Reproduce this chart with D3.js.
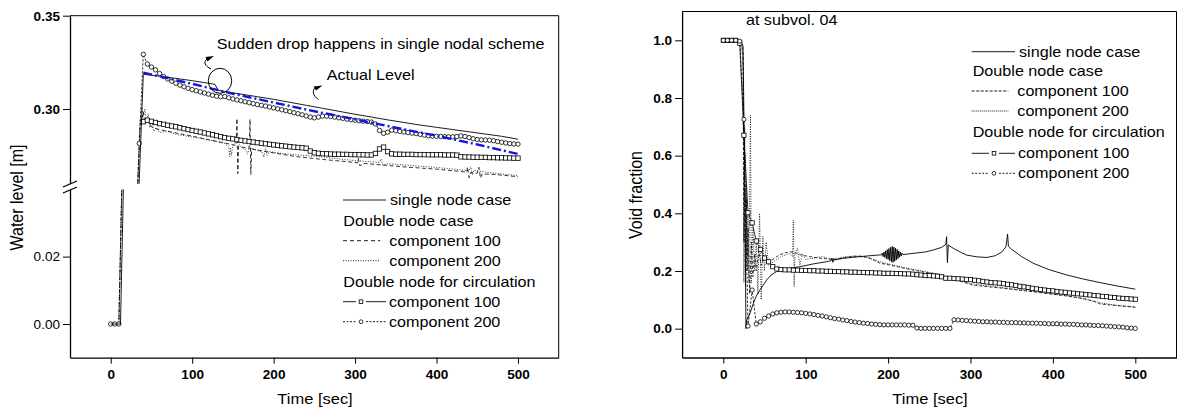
<!DOCTYPE html>
<html>
<head>
<meta charset="utf-8">
<script src="https://cdn.jsdelivr.net/npm/d3@7"></script>
<style>
  body { margin: 0; background: #fff; }
  svg { display: block; font-family: "Liberation Sans", Arial, Helvetica, sans-serif; }
</style>
</head>
<body>
<script>
// sample times of the marker series (one point every 5 s)
var secs = d3.range(0, 505, 5);

// ---------- left panel : water level [m] ----------
var lvlCirc200 = [
  0, 0, 0, null, null, null, null, .2816, .3293, .3241,
  .3225, .3210, .3190, .3174, .3161, .3149, .3138, .3128, .3119, .3111,
  .3104, .3098, .3092, .3086, .3080, .3074, .3069, .3066, .3067, .3060,
  .3054, .3049, .3044, .3039, .3034, .3029, .3024, .3020, .3016, .3011,
  .3006, .3001, .2996, .2991, .2986, .2980, .2975, .2969, .2963, .2957,
  .2953, .2957, .2962, .2962, .2960, .2957, .2953, .2950, .2946, .2943,
  .2940, .2937, .2935, .2933, .2930, .2920, .2885, .2870, .2876, .2887,
  .2884, .2880, .2877, .2874, .2871, .2868, .2864, .2860, .2857, .2855,
  .2854, .2853, .2852, .2851, .2851, .2853, .2856, .2853, .2847, .2841,
  .2837, .2835, .2834, .2833, .2830, .2826, .2822, .2818, .2815, .2813, .2812
];
var lvlSq100 = [
  null, null, null, null, null, null, null, null, .2932, .2940,
  .2934, .2928, .2922, .2918, .2913, .2909, .2905, .2900, .2895, .2890,
  .2885, .2881, .2877, .2872, .2867, .2862, .2857, .2852, .2847, .2843,
  .2840, .2836, .2832, .2829, .2826, .2823, .2820, .2817, .2814, .2811,
  .2808, .2806, .2803, .2801, .2798, .2796, .2794, .2792, .2790, .2775,
  .2766, .2763, .2761, .2760, .2759, .2758, .2758, .2757, .2757, .2756,
  .2756, .2755, .2755, .2754, .2754, .2762, .2786, .2796, .2772, .2760,
  .2758, .2758, .2757, .2757, .2757, .2756, .2756, .2756, .2755, .2755,
  .2755, .2755, .2754, .2754, .2754, .2753, .2744, .2743, .2743, .2742,
  .2742, .2741, .2741, .2740, .2740, .2739, .2739, .2738, .2738, .2737, .2737
];
var lvlSingle = [[0,0],[5,0],[10,0],[12,0],[40,.3186],[60,.3176],[80,.3164],[100,.3152],
  [120,.3138],[128,.3132],[132,.3100],[140,.3094],[160,.3080],[180,.3066],[200,.3052],
  [220,.3036],[240,.3020],[260,.3004],[280,.2988],[300,.2972],[320,.2957],[340,.2942],
  [360,.2928],[380,.2914],[400,.2902],[420,.2890],[440,.2878],[460,.2866],[480,.2854],[500,.2838]];
var lvlActual = [[40,.3195],[100,.3135],[150,.3082],[200,.3035],[250,.2988],[300,.2945],
  [350,.2900],[400,.2857],[450,.2810],[500,.2759]];
var lvlDbl100 = [[0,0],[10,0],[36,.2900],[40,.2985],[42,.2920],[45,.2950],[50,.2905],[55,.2895],
  [60,.2890],[80,.2872],[100,.2855],[120,.2836],[140,.2818],[150,.2808],[154,.2805],[155,.2949],
  [156,.2654],[157,.2800],[165,.2793],[170,.2790],[171,.2945],[172,.2650],[173,.2786],[200,.2765],
  [228,.2745],[260,.2730],[285,.2720],[303,.2712],[304,.2735],[306,.2695],[310,.2709],[360,.2690],
  [400,.2678],[433,.2664],[437,.2662],[438,.2690],[440,.2632],[442,.2660],[450,.2656],[452,.2688],
  [454,.2630],[456,.2652],[470,.2650],[485,.2644],[500,.2637]];
var lvlDbl200 = [[0,0],[10,0],[36,.2930],[38,.3010],[40,.2960],[42,.3000],[44,.2930],[46,.2975],
  [48,.2900],[50,.2945],[53,.2880],[56,.2900],[60,.2875],[70,.2880],[80,.2865],[90,.2857],
  [100,.2850],[110,.2843],[120,.2834],[130,.2826],[140,.2816],[145,.2795],[146,.2745],[147,.2795],
  [148,.2750],[150,.2805],[155,.2830],[160,.2795],[165,.2785],[168,.2758],[170,.2792],[180,.2778],
  [186,.2768],[188,.2742],[190,.2790],[192,.2752],[195,.2772],[210,.2762],[230,.2754],[250,.2747],
  [270,.2738],[290,.2728],[310,.2720],[330,.2714],[332,.2732],[334,.2700],[340,.2707],[370,.2697],
  [400,.2687],[430,.2674],[440,.2670],[442,.2692],[444,.2646],[446,.2672],[460,.2662],[480,.2652],[500,.2644]];

// ---------- right panel : void fraction ----------
var vfSq100 = [
  1, 1, 1, 1, .99, .671, .402, .367, .304, .275,
  .245, .232, .215, .207, .205, .204, .204, .203, .203, .202,
  .202, .201, .201, .200, .200, .199, .199, .198, .198, .197,
  .197, .196, .196, .195, .195, .194, .194, .193, .193, .192,
  .192, .192, .191, .191, .190, .190, .189, .187, .186, .184,
  .184, .183, .182, .180, .175, .175, .174, .173, .172, .171,
  .170, .168, .166, .164, .162, .160, .159, .158, .156, .154,
  .152, .150, .147, .145, .143, .140, .138, .136, .134, .132,
  .131, .129, .127, .126, .124, .123, .121, .120, .118, .117,
  .115, .114, .112, .111, .109, .108, .106, .105, .104, .103, .102
];
var vfCirc200 = [
  1, 1, 1, 1, .997, .726, .009, .134, .016, .024,
  .036, .044, .051, .055, .057, .058, .058, .057, .056, .055,
  .053, .051, .049, .046, .044, .041, .038, .035, .033, .030,
  .028, .025, .023, .021, .019, .018, .016, .015, .014, .013,
  .013, .013, .013, .013, .013, .012, .012, .002, .001, .001,
  .001, .001, .001, .001, .001, .001, .031, .030, .029, .028,
  .027, .026, .025, .024, .024, .023, .023, .022, .022, .021,
  .021, .021, .020, .020, .019, .019, .019, .018, .018, .017,
  .017, .017, .016, .016, .015, .015, .014, .013, .013, .012,
  .011, .011, .010, .009, .008, .007, .006, .005, .003, .002, .001
];
var vfSingle = [[0,1],[20,1],[24,.98],[26,.5],[27.5,0],[28.4,.03],[32.4,.053],[36.5,.088],[40,.113],
  [44.5,.134],[52.6,.169],[58,.186],[64.7,.198],[75,.207],[93,.215],[110,.225],[125,.232],
  [131,.236],[132,.244],[133,.230],[134,.242],[135,.238],[145,.244],[166,.250],[186,.255],
  [192,.256],[193,.262],[194,.250],[195,.266],[196,.247],[197,.270],[198,.243],[199,.274],
  [200,.240],[201,.278],[202,.236],[203,.282],[204,.232],[205,.285],[206,.230],[207,.283],
  [208,.234],[209,.279],[210,.238],[211,.275],[212,.243],[213,.270],[214,.248],[215,.266],
  [216,.252],[217,.262],[218,.257],[230,.261],[245,.266],[255,.273],[265,.282],[270,.292],
  [271,.319],[272,.229],[273,.290],[279,.279],[288,.265],[295.5,.255],[308,.249],[320,.247],
  [330,.253],[338,.266],[343,.284],[345,.328],[346,.286],[350,.275],[362,.250],[376,.227],
  [395,.205],[417,.186],[437,.172],[457,.160],[478,.148],[500,.137]];
var vfDbl100 = [[0,1],[22,1],[24,.95],[25,.30],[26,.60],[27,.15],[28,.45],[29,.20],[30,.35],
  [32,.12],[34,.30],[36,.18],[38,.26],[40,.20],[43,.27],[46,.22],[50,.25],[55,.235],[60,.24],
  [65,.25],[70,.258],[75,.263],[81,.267],[88,.262],[95,.255],[105,.25],[115,.245],[125,.242],
  [135,.24],[145,.245],[155,.25],[165,.252],[175,.248],[185,.235],[190,.227],[200,.222],
  [214,.213],[230.6,.203],[240,.198],[260,.188],[280,.172],[303,.151],[340,.14],[376,.128],
  [410,.116],[437,.105],[450,.095],[457,.086],[470,.082],[485,.078],[500,.074]];
var vfDbl200 = [[0,1],[22,1],[24,.9],[25,.16],[26,.7],[27,.2],[28,.5],[29,.25],[30,.4],[31,.16],
  [33,.741],[34,.158],[36,.35],[38,.2],[40,.3],[42,.12],[44,.4],[46,.1],[48,.32],[50,.2],[52,.3],
  [55,.22],[60,.23],[65,.24],[70,.25],[75,.255],[80,.26],[84,.25],[85,.377],[86,.146],[87,.26],
  [90,.28],[93,.22],[96,.26],[100,.24],[110,.245],[120,.25],[130,.242],[140,.245],[150,.25],
  [160,.252],[175,.246],[190,.232],[210,.218],[230,.206],[260,.19],[300,.156],[340,.142],
  [380,.128],[420,.113],[457,.09],[480,.08],[500,.076]];

// ---------- ticks and labels ----------
var xMajor = [0, 100, 200, 300, 400, 500];
var xMinor = [-50, 50, 150, 250, 350, 450, 550];
var lvlTopMajor = [0.30, 0.35];
var lvlTopMinor = [0.275, 0.325];
var lvlBotMajor = [0.00, 0.02];
var lvlBotMinor = [-0.01, 0.01, 0.03];
var vfMajor = [0, 0.2, 0.4, 0.6, 0.8, 1.0];
var vfMinor = [-0.1, 0.1, 0.3, 0.5, 0.7, 0.9];
var legendLabels = ['single node case', 'Double node case', 'component 100', 'component 200',
  'Double node for circulation', 'component 100', 'component 200'];
var noteDrop = 'Sudden drop happens in single nodal scheme';
var noteActual = 'Actual Level';
var noteSubvol = 'at subvol. 04';

var SX = 1.13; // the figure's lettering is a little wider than plain Arial
var TXT = 14.3;

var svg = d3.select('body').append('svg')
  .attr('width', 1178).attr('height', 414);
var defs = svg.append('defs');

function clipRect(id, x0, y0, x1, y1) {
  defs.append('clipPath').attr('id', id).append('rect')
    .attr('x', x0).attr('y', y0).attr('width', x1 - x0).attr('height', y1 - y0);
}

function gridSeries(vals) {
  return secs.map(function(t, i) { return [t, vals[i]]; })
             .filter(function(d) { return d[1] != null; });
}

// little painter bound to one pair of scales
function painter(g, x, y) {
  var line = d3.line().x(function(d) { return x(d[0]); }).y(function(d) { return y(d[1]); });
  return {
    line: function(data, o) {
      g.append('path').datum(data).attr('d', line)
        .attr('fill', 'none')
        .attr('stroke', o.color || '#000')
        .attr('stroke-width', o.w || 0.8)
        .attr('stroke-dasharray', o.dash || null)
        .attr('stroke-linejoin', 'round');
    },
    squares: function(data, s) {
      g.selectAll(null).data(data).enter().append('rect')
        .attr('x', function(d) { return x(d[0]) - s / 2; })
        .attr('y', function(d) { return y(d[1]) - s / 2; })
        .attr('width', s).attr('height', s)
        .attr('fill', '#fff').attr('stroke', '#000').attr('stroke-width', 0.8);
    },
    circles: function(data, r) {
      g.selectAll(null).data(data).enter().append('circle')
        .attr('cx', function(d) { return x(d[0]); })
        .attr('cy', function(d) { return y(d[1]); })
        .attr('r', r)
        .attr('fill', '#fff').attr('stroke', '#000').attr('stroke-width', 0.8);
    }
  };
}

function label(x, y, str, size, anchor, weight) {
  return svg.append('text')
    .attr('transform', 'translate(' + x + ',' + y + ') scale(' + SX + ',1)')
    .attr('text-anchor', anchor || 'start')
    .attr('font-size', size)
    .attr('font-weight', weight || 'normal')
    .attr('fill', '#000')
    .text(str);
}

function styleAxis(g, bold) {
  g.selectAll('.domain').attr('stroke-width', 1.3);
  g.selectAll('.tick line').attr('stroke-width', 1);
  g.selectAll('text').attr('font-size', 12).attr('fill', '#000')
    .attr('font-family', '"Liberation Sans", Arial, sans-serif')
    .attr('font-weight', bold ? 'bold' : 'normal');
}

function bottomAxis(x, y0) {
  var g = svg.append('g').attr('transform', 'translate(0,' + y0 + ')');
  g.call(d3.axisBottom(x).tickValues(xMinor).tickSize(4).tickSizeOuter(0).tickFormat(''));
  g.call(d3.axisBottom(x).tickValues(xMajor).tickSize(6).tickSizeOuter(0).tickFormat(d3.format('d')));
  styleAxis(g, true);
  g.selectAll('text').attr('y', 21.6).attr('dy', null)
    .attr('transform', 'scale(' + SX + ',1)');
}

function leftAxis(y, x0, major, minor, fmt, bold) {
  var g = svg.append('g').attr('transform', 'translate(' + x0 + ',0)');
  g.call(d3.axisLeft(y).tickValues(minor).tickSize(4).tickSizeOuter(0).tickFormat(''));
  g.call(d3.axisLeft(y).tickValues(major).tickSize(7).tickSizeOuter(0).tickFormat(d3.format(fmt)));
  styleAxis(g, bold);
  g.selectAll('text').attr('x', -10 / SX).attr('dy', '0.36em')
    .attr('transform', 'scale(' + SX + ',1)');
}

// ================= LEFT PANEL =================
var xL = d3.scaleLinear().domain([-50, 550]).range([70, 558.7]);
var yTop = d3.scaleLinear().domain([0.26, 0.35]).range([183.7, 15.7]);
var yBot = d3.scaleLinear().domain([-0.01, 0.04]).range([357.7, 189.2]);

clipRect('clipTop', 70, 15.7, 558.7, 183.7);
clipRect('clipBot', 70, 189.2, 558.7, 357.7);

function drawLevel(g, y) {
  var p = painter(g, xL, y);
  p.line(lvlDbl200, { dash: '1,1.6', w: 0.8 });
  p.line(lvlDbl100, { dash: '4,2.5', w: 0.8 });
  p.line(gridSeries(lvlSq100), { w: 0.8 });
  p.line(gridSeries(lvlCirc200), { dash: '2.5,1.5', w: 0.8 });
  p.squares(gridSeries(lvlSq100), 4.4);
  p.circles(gridSeries(lvlCirc200), 2.2);
  p.line(lvlSingle, { w: 0.9 });
  p.line(lvlActual, { color: '#1414e6', w: 2.4, dash: '9,3,2,3' });
}
drawLevel(svg.append('g').attr('clip-path', 'url(#clipTop)'), yTop);
drawLevel(svg.append('g').attr('clip-path', 'url(#clipBot)'), yBot);

// frame
svg.append('path').attr('d', 'M70,15.7H558.7V357.7')
  .attr('fill', 'none').attr('stroke', '#000').attr('stroke-width', 1);
bottomAxis(xL, 357.7);
leftAxis(yTop, 70, lvlTopMajor, lvlTopMinor, '.2f', true);
leftAxis(yBot, 70, lvlBotMajor, lvlBotMinor, '.2f', false);
// axis break marks
svg.append('path').attr('d', 'M63,187L77,181M63,193L77,187')
  .attr('stroke', '#000').attr('stroke-width', 1.3);

// annotations
label(216.7, 49.3, noteDrop, TXT);
label(326.7, 80, noteActual, TXT);
svg.append('ellipse').attr('cx', 220).attr('cy', 80.8).attr('rx', 11.7).attr('ry', 12.5)
  .attr('fill', 'none').attr('stroke', '#000').attr('stroke-width', 1);
svg.append('path').attr('d', 'M207,59 C203,62 205,66 211,69')
  .attr('fill', 'none').attr('stroke', '#000').attr('stroke-width', 1);
svg.append('path').attr('d', 'M205.5,57 L214,56 L207.5,61.5 Z').attr('fill', '#000');
svg.append('path').attr('d', 'M315,87.5 C312,91 313,96 318.5,99.5')
  .attr('fill', 'none').attr('stroke', '#000').attr('stroke-width', 1);
svg.append('path').attr('d', 'M313.5,86.5 L322.5,85.5 L316,90.5 Z').attr('fill', '#000');

// axis titles
label(315, 404, 'Time [sec]', 14.6, 'middle');
svg.append('text')
  .attr('transform', 'translate(23,197.5) rotate(-90) scale(1,' + SX + ')')
  .attr('text-anchor', 'middle').attr('font-size', 16).text('Water level [m]');

// legend
function legend(x0, x1, xt, xh, xm, base, dashA, dotA) {
  var kinds = ['solid', 'head', 'dash', 'dot', 'head', 'sq', 'circ'];
  kinds.forEach(function(k, i) {
    var yb = base[i], yc = yb - 5;
    if (k === 'head') { label(xh, yb, legendLabels[i], TXT); return; }
    var xs = (k === 'dash' || k === 'dot') ? xt - 9 : x1;
    if (k === 'sq' || k === 'circ') {
      svg.append('line').attr('x1', x0).attr('x2', xm - 5).attr('y1', yc).attr('y2', yc)
        .attr('stroke', '#000').attr('stroke-width', 0.9).attr('stroke-dasharray', k === 'circ' ? '2,1.5' : null);
      svg.append('line').attr('x1', xm + 5).attr('x2', x1).attr('y1', yc).attr('y2', yc)
        .attr('stroke', '#000').attr('stroke-width', 0.9).attr('stroke-dasharray', k === 'circ' ? '2,1.5' : null);
      if (k === 'sq') svg.append('rect').attr('x', xm - 1.8).attr('y', yc - 1.8).attr('width', 3.6).attr('height', 3.6)
        .attr('fill', '#fff').attr('stroke', '#000').attr('stroke-width', 0.8);
      else svg.append('circle').attr('cx', xm).attr('cy', yc).attr('r', 1.9)
        .attr('fill', '#fff').attr('stroke', '#000').attr('stroke-width', 0.8);
      label(x1 + 3, yb, legendLabels[i], TXT);
      return;
    }
    svg.append('line').attr('x1', x0).attr('x2', xs).attr('y1', yc).attr('y2', yc)
      .attr('stroke', '#000').attr('stroke-width', 0.9)
      .attr('stroke-dasharray', k === 'dash' ? dashA : (k === 'dot' ? dotA : null));
    label(k === 'solid' ? x1 + 4 : xt, yb, legendLabels[i], TXT);
  });
}
legend(343, 386, 389.3, 343.3, 361, [205, 225.7, 245.7, 265.7, 287.3, 306.7, 326.7], '4,3', '1,1.5');

// ================= RIGHT PANEL =================
var xR = d3.scaleLinear().domain([-50, 550]).range([682.1, 1176.5]);
var yR = d3.scaleLinear().domain([-0.1, 1.1]).range([357.5, 11.5]);
clipRect('clipR', 682.1, 11.5, 1176.5, 357.5);

var gR = svg.append('g').attr('clip-path', 'url(#clipR)');
var pR = painter(gR, xR, yR);
pR.line(vfDbl200, { dash: '1,1.4', w: 0.8 });
pR.line(vfDbl100, { dash: '3,2', w: 0.8 });
pR.line(gridSeries(vfSq100), { w: 0.8 });
pR.line(gridSeries(vfCirc200), { dash: '2.5,1.5', w: 0.8 });
pR.line(vfSingle, { w: 0.9 });
pR.squares(gridSeries(vfSq100), 4.2);
pR.circles(gridSeries(vfCirc200), 2.1);

svg.append('path').attr('d', 'M682.1,11.5H1176.5V357.5')
  .attr('fill', 'none').attr('stroke', '#000').attr('stroke-width', 1);
bottomAxis(xR, 357.5);
leftAxis(yR, 682.1, vfMajor, vfMinor, '.1f', true);

label(791.7, 24.5, noteSubvol, TXT, 'middle');
label(930, 404, 'Time [sec]', 14.6, 'middle');
svg.append('text')
  .attr('transform', 'translate(641.5,195) rotate(-90) scale(1,' + SX + ')')
  .attr('text-anchor', 'middle').attr('font-size', 16).text('Void fraction');

legend(971.7, 1015, 1017.3, 972.7, 994, [56.7, 76, 96, 116, 136.7, 158.3, 178.3], '3,1.5', '1,1');
</script>
</body>
</html>
